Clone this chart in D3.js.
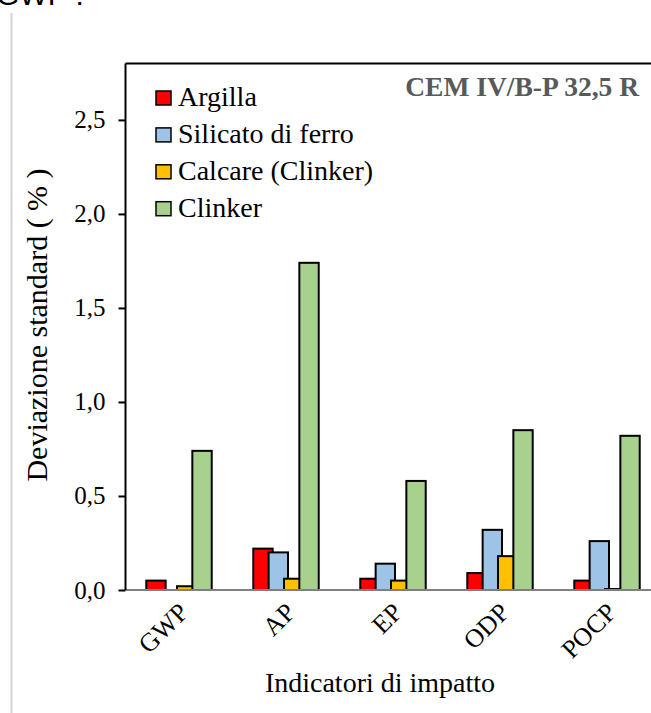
<!DOCTYPE html>
<html>
<head>
<meta charset="utf-8">
<script src="https://cdn.jsdelivr.net/npm/d3@7"></script>
<style>
  body { margin: 0; background: #fff; }
  svg { display: block; }
  text { font-family: "Liberation Serif", "Times New Roman", serif; }
</style>
</head>
<body>
<div id="chart"></div>
<script>
// data
const categories = ['GWP', 'AP', 'EP', 'ODP', 'POCP']
const argilla = [0.05, 0.22, 0.06, 0.09, 0.05]
const silicato = [0, 0.20, 0.14, 0.32, 0.26]
const calcare = [0.02, 0.06, 0.05, 0.18, 0.005]
const clinker = [0.74, 1.74, 0.58, 0.85, 0.82]
const seriesNames = ['Argilla', 'Silicato di ferro', 'Calcare (Clinker)', 'Clinker']
const seriesColors = ['#ff0000', '#9dc3e6', '#ffc000', '#a9d18e']
const yTickValues = [0, 0.5, 1.0, 1.5, 2.0, 2.5]

const allSeries = [argilla, silicato, calcare, clinker]

let w = 651, h = 713

let svg = d3.select('#chart').append('svg').attr('width', w).attr('height', h)

// cut-off heading and page frame line
svg.append('text').attr('x', -4).attr('y', 5)
  .style('font-family', '"Liberation Sans", Arial, sans-serif')
  .style('font-size', '30px').style('fill', '#000').text('GWP :')
svg.append('line').attr('x1', 11.5).attr('x2', 11.5).attr('y1', 13).attr('y2', h)
  .attr('stroke', '#d4d4d4').attr('stroke-width', 2)

let xScale = d3.scaleBand()
  .domain(categories)
  .range([125.5, 660.5])

let yScale = d3.scaleLinear()
  .domain([0, 2.8])
  .range([590, 63.5])

let bw = xScale.bandwidth()
let barW = bw * 0.181
let step = bw * 0.1435
let groupW = step * 3 + barW
let xs = d3.scaleLinear().domain([0, 3]).range([-groupW / 2, groupW / 2 - barW])

// top border of plot area
svg.append('line')
  .attr('x1', xScale.range()[0]).attr('x2', xScale.range()[1])
  .attr('y1', yScale(2.8)).attr('y2', yScale(2.8))
  .attr('stroke', '#000').attr('stroke-width', 2)

// bars, later series drawn on top
allSeries.forEach((vals, si) => {
  let data = vals.map((v, i) => ({cat: categories[i], v: v})).filter(d => d.v > 0)
  svg.append('g').selectAll('rect').data(data).enter().append('rect')
    .attr('x', d => xScale(d.cat) + bw / 2 + xs(si))
    .attr('y', d => yScale(d.v))
    .attr('width', barW)
    .attr('height', d => yScale(0) - yScale(d.v))
    .attr('fill', seriesColors[si])
    .attr('stroke', '#000')
    .attr('stroke-width', 2)
})

// x baseline
svg.append('line')
  .attr('x1', xScale.range()[0]).attr('x2', xScale.range()[1])
  .attr('y1', yScale(0)).attr('y2', yScale(0))
  .attr('stroke', '#808080').attr('stroke-width', 2)

// y axis
let yAxis = d3.axisLeft(yScale)
  .tickValues(yTickValues)
  .tickSize(7)
  .tickPadding(13)
  .tickFormat(d => d.toFixed(1).replace('.', ','))

let gy = svg.append('g').attr('transform', `translate(${xScale.range()[0]},0)`).call(yAxis)
gy.select('.domain').attr('stroke', '#000').attr('stroke-width', 2)
  .attr('d', `M0,${yScale(0)}V${yScale(2.8)}`)
gy.selectAll('.tick line').attr('stroke', '#000').attr('stroke-width', 2)
gy.selectAll('.tick text')
  .style('font-family', '"Liberation Serif", serif')
  .style('font-size', '25px').attr('fill', '#000')

// x tick labels, rotated
svg.append('g').selectAll('text').data(categories).enter().append('text')
  .attr('transform', d => `translate(${xScale(d) + bw / 2 - 2},${yScale(0) + 11}) rotate(-45)`)
  .attr('text-anchor', 'end')
  .attr('dy', '0.7em')
  .style('font-size', '26px').style('fill', '#000')
  .text(d => d)

// axis titles
svg.append('text')
  .attr('transform', 'translate(47,325) rotate(-90)')
  .attr('text-anchor', 'middle')
  .style('font-size', '30px').style('fill', '#000')
  .text('Deviazione standard ( % )')

svg.append('text')
  .attr('x', 380).attr('y', 692)
  .attr('text-anchor', 'middle')
  .style('font-size', '28px').style('fill', '#000')
  .text('Indicatori di impatto')

// cement label
svg.append('text')
  .attr('x', 639).attr('y', 95.5)
  .attr('text-anchor', 'end')
  .style('font-size', '27.5px').style('font-weight', 'bold')
  .style('fill', '#595959')
  .text('CEM IV/B-P 32,5 R')

// legend
let legend = svg.append('g').selectAll('g').data(seriesNames).enter().append('g')
  .attr('transform', (d, i) => `translate(156,${98 + i * 36.9})`)
legend.append('rect')
  .attr('x', 0).attr('y', -7).attr('width', 15).attr('height', 14)
  .attr('fill', (d, i) => seriesColors[i])
  .attr('stroke', '#000').attr('stroke-width', 1.5)
legend.append('text')
  .attr('x', 22).attr('y', 8)
  .style('font-size', '28px').style('fill', '#000')
  .text(d => d)
</script>
</body>
</html>
